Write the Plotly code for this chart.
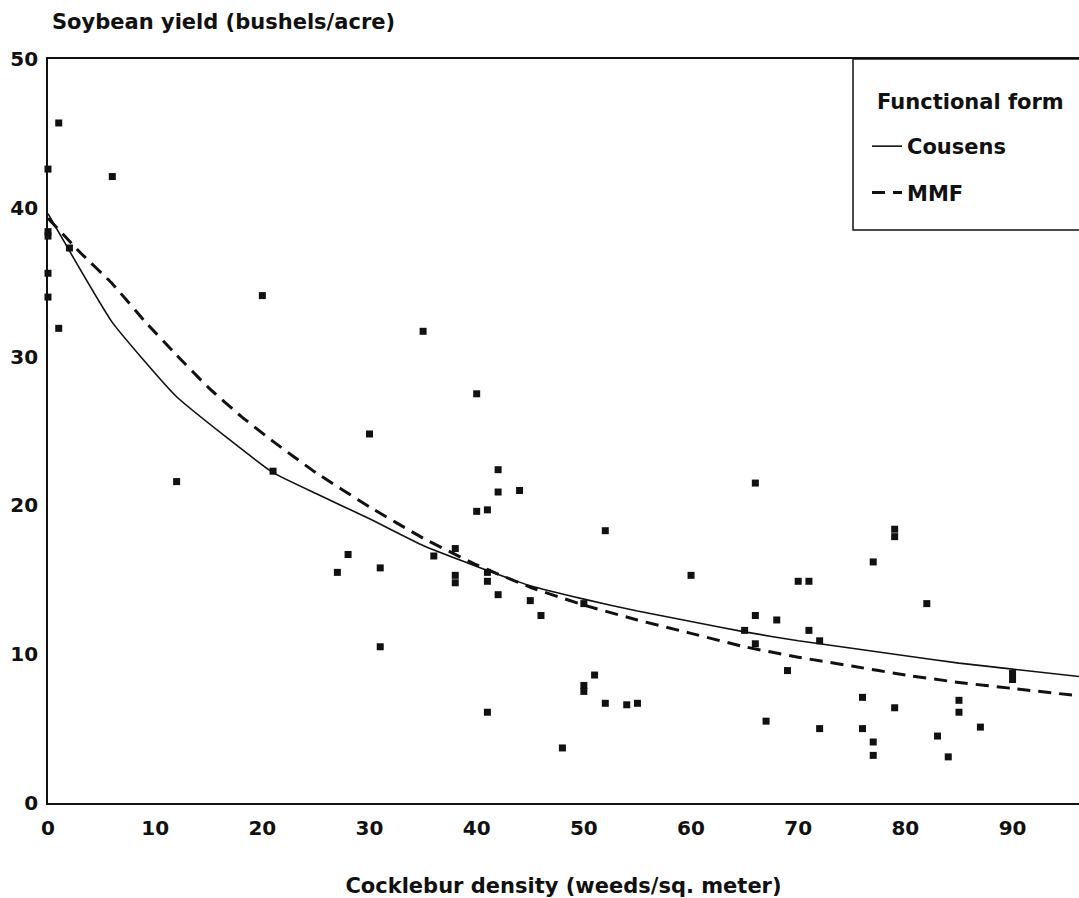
import plotly.graph_objects as go

# Observed data (cocklebur density, soybean yield)
density = [0, 0, 0, 0, 0, 1, 1, 2, 6, 12, 20, 21,
           35, 40, 30, 42, 42, 44, 40, 41, 52, 28, 27, 31, 36, 38, 38, 38, 41, 41,
           42, 45, 46, 50, 31, 51, 50, 50, 52, 54, 55, 41, 48,
           66, 79, 79, 77, 60, 70, 71, 82, 66, 68, 65, 71, 72, 66, 69, 90, 90,
           76, 79, 85, 85, 67, 72, 76, 77, 77, 83, 84, 87]
yield_obs = [42.6, 38.4, 38.1, 35.6, 34.0, 45.7, 31.9, 37.3, 42.1, 21.6, 34.1, 22.3,
             31.7, 27.5, 24.8, 22.4, 20.9, 21.0, 19.6, 19.7, 18.3, 16.7, 15.5, 15.8, 16.6, 17.1, 15.3, 14.8, 15.5, 14.9,
             14.0, 13.6, 12.6, 13.4, 10.5, 8.6, 7.9, 7.5, 6.7, 6.6, 6.7, 6.1, 3.7,
             21.5, 18.4, 17.9, 16.2, 15.3, 14.9, 14.9, 13.4, 12.6, 12.3, 11.6, 11.6, 10.9, 10.7, 8.9, 8.7, 8.3,
             7.1, 6.4, 6.9, 6.1, 5.5, 5.0, 5.0, 4.1, 3.2, 4.5, 3.1, 5.1]

# Fitted curves
cousens_x = [0, 6, 12, 21, 25, 30, 35, 40, 45, 50, 55, 60, 65, 70, 75, 80, 85, 90, 96.2]
cousens_y = [39.6, 32.3, 27.3, 22.2, 20.8, 19.1, 17.3, 15.9, 14.6, 13.7, 12.9, 12.2, 11.5, 10.9, 10.4, 9.9, 9.4, 9.0, 8.5]

mmf_x = [0, 3, 6, 9, 12, 15, 18, 21, 25, 30, 35, 40, 45, 50, 55, 60, 65, 70, 75, 80, 85, 90, 96.2]
mmf_y = [39.3, 37.0, 34.9, 32.4, 30.1, 27.9, 26.0, 24.3, 22.2, 19.9, 17.8, 16.0, 14.5, 13.3, 12.3, 11.4, 10.5, 9.8, 9.2, 8.6, 8.1, 7.7, 7.2]

x_ticks = [0, 10, 20, 30, 40, 50, 60, 70, 80, 90]
y_ticks = [0, 10, 20, 30, 40, 50]

FONT = "DejaVu Sans, Liberation Sans, Arial, sans-serif"
INK = "#111111"

PW, PH = 1079, 898
PLOT_L, PLOT_R, PLOT_T, PLOT_B = 48, 1079, 59, 803
pw = PLOT_R - PLOT_L
ph = PLOT_B - PLOT_T


def px_x(p):
    return (p - PLOT_L) / pw


def px_y(p):
    return (PLOT_B - p) / ph


fig = go.Figure()
fig.add_trace(go.Scatter(
    x=density, y=yield_obs, mode="markers",
    marker=dict(symbol="square", size=7, color=INK),
    showlegend=False, hoverinfo="x+y", cliponaxis=False))
fig.add_trace(go.Scatter(
    x=cousens_x, y=cousens_y, mode="lines", name="Cousens",
    line=dict(color=INK, width=1.6, shape="spline", smoothing=0.4), legendgroup="a"))
fig.add_trace(go.Scatter(
    x=mmf_x, y=mmf_y, mode="lines", name="MMF",
    line=dict(color=INK, width=3, dash="13px,8px", shape="spline", smoothing=0.4),
    legendgroup="b"))

fig.update_layout(
    width=PW, height=PH,
    margin=dict(l=PLOT_L, r=PW - PLOT_R, t=PLOT_T, b=PH - PLOT_B),
    paper_bgcolor="white", plot_bgcolor="white",
    font=dict(family=FONT, size=20, color=INK, weight="bold"),
    xaxis=dict(range=[0, 96.2], tickvals=x_ticks, showgrid=False, zeroline=False,
               showline=True, linecolor=INK, linewidth=1.8, mirror=True,
               ticks="", ticklabelstandoff=6,
               title=dict(text="Cocklebur density (weeds/sq. meter)", standoff=40,
                          font=dict(size=21, weight="bold"))),
    yaxis=dict(range=[0, 50], tickvals=y_ticks, showgrid=False, zeroline=False,
               showline=True, linecolor=INK, linewidth=1.8,
               ticks="", ticklabelstandoff=4),
    legend=dict(
        x=px_x(867), xanchor="left", y=px_y(126), yanchor="top",
        borderwidth=0, bgcolor="rgba(0,0,0,0)",
        font=dict(size=21, weight="bold"), itemwidth=30, tracegroupgap=16),
    shapes=[dict(type="rect", xref="paper", yref="paper",
                 x0=px_x(853), x1=px_x(1090), y0=px_y(230), y1=1,
                 line=dict(color=INK, width=1.5), fillcolor="white", layer="above")],
    annotations=[
        dict(text="Soybean yield (bushels/acre)", xref="paper", yref="paper",
             x=px_x(50), y=1, xanchor="left", yanchor="bottom",
             yshift=23, showarrow=False, font=dict(size=21, weight="bold")),
        dict(text="Functional form", xref="paper", yref="paper",
             x=px_x(875), y=px_y(102), xanchor="left", yanchor="middle",
             showarrow=False, font=dict(size=21, weight="bold")),
    ],
)

fig.write_html(
    "out.html",
    config={"displayModeBar": False},
    post_script="document.body.style.margin='0';document.body.style.overflow='hidden';",
)
